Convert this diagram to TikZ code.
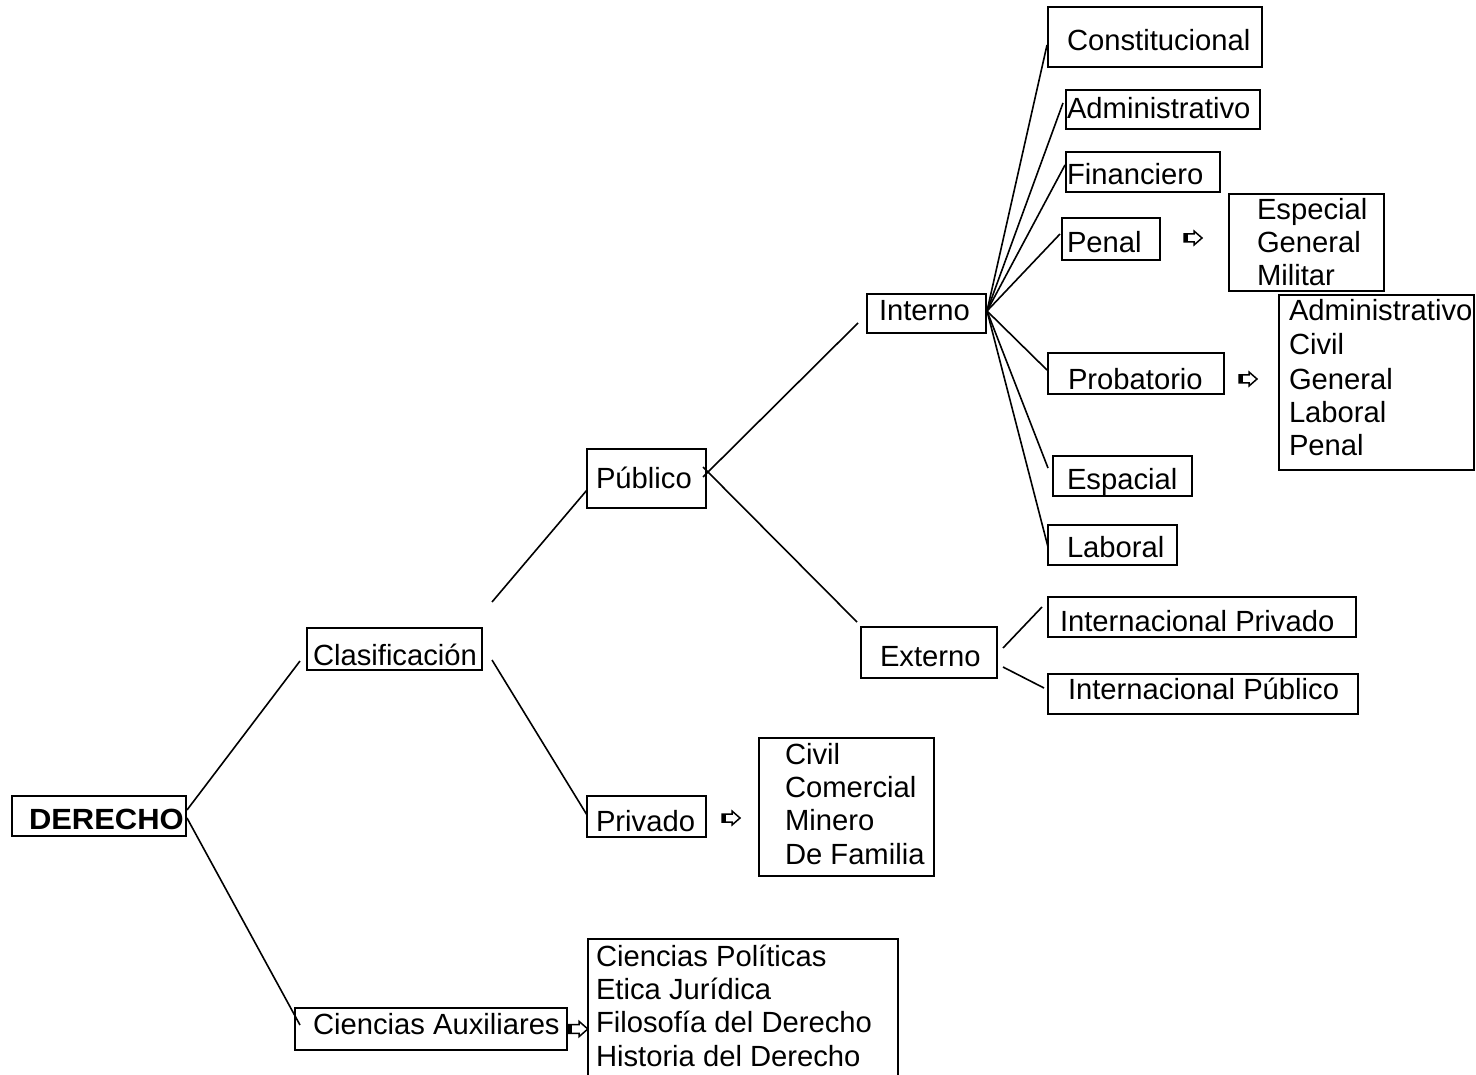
\documentclass[tikz,border=0pt]{standalone}
\usepackage{fontspec}
\setmainfont{Liberation Sans}
\usetikzlibrary{calc}
\newcommand{\bbox}[5]{\node[bx, minimum width={#4-#2}, minimum height={#5-#3}] (#1) at ({(#2+#4)/2},{(#3+#5)/2}) {};}
\newcommand{\btext}[4]{\node[tx] (#1) at (#2,#3) {#4};}
\begin{document}
\begin{tikzpicture}[x=1pt,y=-1pt,
  bx/.style={draw, line width=1.8pt, rectangle, inner sep=0pt, outer sep=0pt},
  tx/.style={anchor=base west, inner sep=0pt, outer sep=0pt, font=\fontsize{29.2}{33}\selectfont},
  ln/.style={line width=1.6pt},
  warrow/.pic={
    \fill (0,-4) rectangle (4,4);
    \draw[line width=1.5pt, line join=miter] (0,-4) -- (10,-4) -- (10,-7) -- (18,0) -- (10,7) -- (10,4) -- (0,4) -- cycle;
  }]
\useasboundingbox (0,0) rectangle (1476,1075);
% boxes
\bbox{derecho}{12}{796}{186}{836}
\bbox{clas}{307}{628}{482}{670}
\bbox{caux}{295}{1008}{567}{1050}
\bbox{cpol}{588}{939}{898}{1082}
\bbox{pub}{587}{449}{706}{508}
\bbox{priv}{587}{796}{706}{837}
\bbox{civ}{759}{738}{934}{876}
\bbox{inter}{867}{294}{986}{333}
\bbox{exte}{861}{627}{997}{678}
\bbox{ipriv}{1048}{597}{1356}{637}
\bbox{ipub}{1048}{674}{1358}{714}
\bbox{const}{1048}{7}{1262}{67}
\bbox{adm}{1066}{90}{1260}{129}
\bbox{fin}{1066}{152}{1220}{192}
\bbox{pen}{1062}{218}{1160}{260}
\bbox{esp}{1229}{194}{1384}{291}
\bbox{prob}{1048}{353}{1224}{394}
\bbox{adml}{1279}{295}{1474}{470}
\bbox{espa}{1053}{456}{1192}{496}
\bbox{lab}{1048}{525}{1177}{565}
% texts
\node[tx, font=\fontsize{29.2}{33}\selectfont\bfseries] (tderecho) at (29,829) {\scalebox{1.06}[1]{DERECHO}};
\btext{tclas}{313}{665}{Clasificación}
\btext{tcaux}{313}{1034}{Ciencias Auxiliares}
\btext{tcp1}{596}{966}{Ciencias Políticas}
\btext{tcp2}{596}{999}{Etica Jurídica}
\btext{tcp3}{596}{1032}{Filosofía del Derecho}
\btext{tcp4}{596}{1066}{Historia del Derecho}
\btext{tpub}{596}{488}{Público}
\btext{tpriv}{596}{831}{Privado}
\btext{tciv1}{785}{764}{Civil}
\btext{tciv2}{785}{797}{Comercial}
\btext{tciv3}{785}{830}{Minero}
\btext{tciv4}{785}{864}{De Familia}
\btext{tinter}{879}{321}{Interno}
\btext{texte}{880}{666}{Externo}
\btext{tipriv}{1060}{631}{Internacional Privado}
\btext{tipub}{1068}{699}{Internacional Público}
\btext{tconst}{1067}{51}{Constitucional}
\btext{tadm}{1067}{119}{Administrativo}
\btext{tfin}{1067}{185}{Financiero}
\btext{tpen}{1067}{253}{Penal}
\btext{tesp1}{1257}{220}{Especial}
\btext{tesp2}{1257}{253}{General}
\btext{tesp3}{1257}{286}{Militar}
\btext{tprob}{1068}{389}{Probatorio}
\btext{tadl1}{1289}{321}{Administrativo}
\btext{tadl2}{1289}{355}{Civil}
\btext{tadl3}{1289}{389}{General}
\btext{tadl4}{1289}{422}{Laboral}
\btext{tadl5}{1289}{455}{Penal}
\btext{tespa}{1067}{489}{Espacial}
\btext{tlab}{1067}{557}{Laboral}
% connectors
\draw[ln] ($(derecho.east)+(1,-6)$) -- ($(clas.west)+(-7,12)$);
\draw[ln] ($(derecho.east)+(1,2)$) -- ($(caux.west)+(5,-4)$);
\draw[ln] ($(clas.east)+(10,-47)$) -- ($(pub.west)+(0,11.5)$);
\draw[ln] ($(clas.east)+(10,11)$) -- ($(priv.west)+(0,-1.5)$);
\draw[ln] ($(pub.east)+(-3,-1.5)$) -- ($(inter.west)+(-9,9.5)$);
\draw[ln] ($(pub.east)+(-3,-11.5)$) -- ($(exte.west)+(-4,-30.5)$);
\coordinate (fan) at ($(inter.east)+(1,-2.5)$);
\draw[ln] (fan) -- ($(const.west)+(-1,8)$);
\draw[ln] (fan) -- ($(adm.west)+(-3,-6.5)$);
\draw[ln] (fan) -- ($(fin.west)+(-1,-7)$);
\draw[ln] (fan) -- ($(pen.west)+(-2,-5)$);
\draw[ln] (fan) -- ($(prob.west)+(-1,-3.5)$);
\draw[ln] (fan) -- ($(espa.west)+(-5,-8)$);
\draw[ln] (fan) -- ($(lab.west)+(0,2)$);
\draw[ln] ($(exte.east)+(6,-4.5)$) -- ($(ipriv.west)+(-6,-10)$);
\draw[ln] ($(exte.east)+(6,14.5)$) -- ($(ipub.west)+(-4,-6)$);
% hollow arrows
\coordinate (ar1) at (1184,238);
\coordinate (ar2) at (1239,379);
\coordinate (ar3) at (722,818);
\coordinate (ar4) at (568,1029);
\pic at (ar1) {warrow};
\pic at (ar2) {warrow};
\pic at (ar3) {warrow};
\pic[scale=1.1] at (ar4) {warrow};
\end{tikzpicture}
\end{document}
